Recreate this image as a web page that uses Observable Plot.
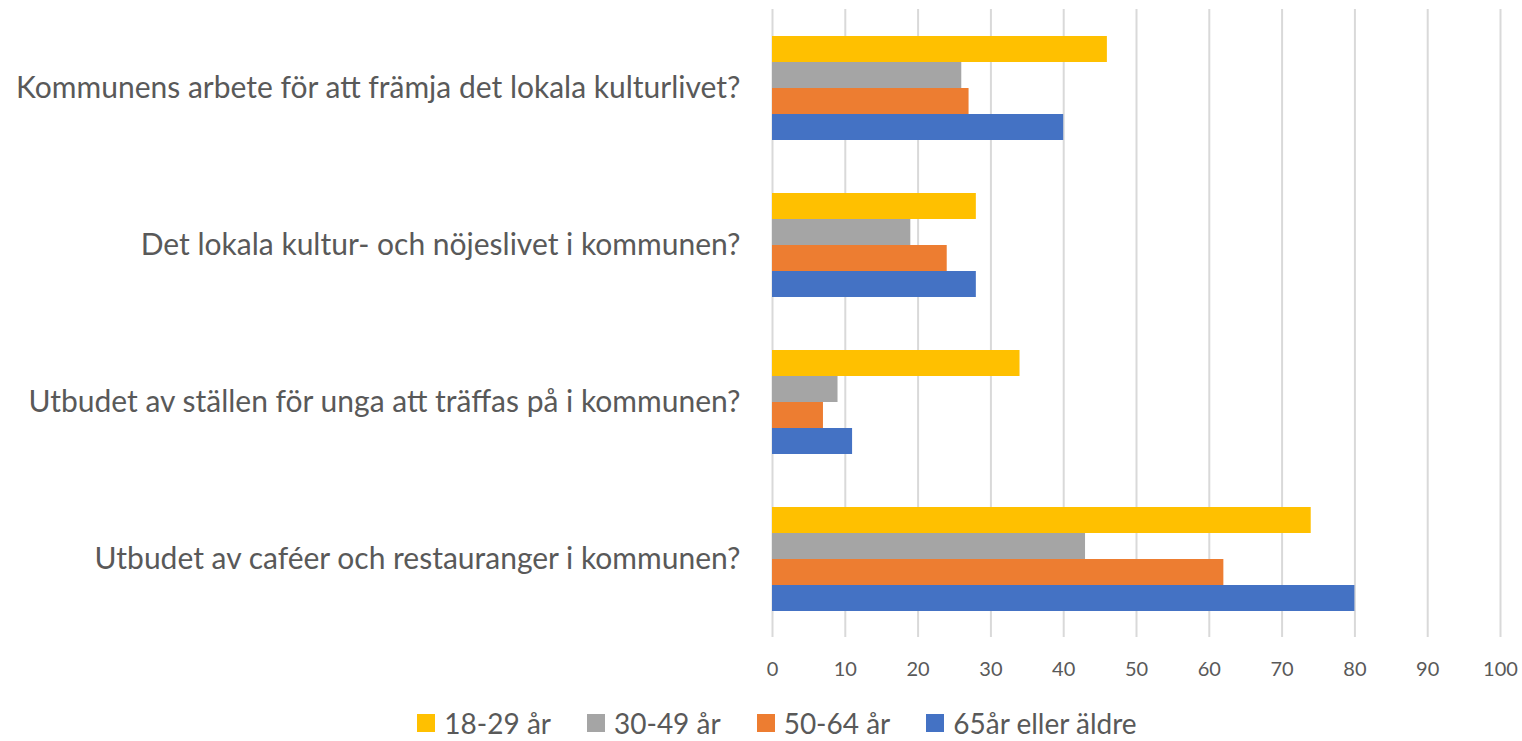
<!DOCTYPE html>
<html>
<head>
<meta charset="utf-8">
<script src="https://cdn.jsdelivr.net/npm/d3@7"></script>
<script src="https://cdn.jsdelivr.net/npm/@observablehq/plot@0.6"></script>
<style>
  html, body { margin: 0; padding: 0; background: #fff; }
  #chart { width: 1522px; height: 695px; }
  .legend { display: flex; justify-content: center; align-items: center; height: 46px; padding-left: 32px; padding-top: 10px; box-sizing: border-box;
    font-family: Lato, sans-serif; font-size: 28px; color: #595959; }
  .legend .item { display: flex; align-items: center; margin: 0 18px; }
  .legend .sw { width: 18px; height: 18px; margin-right: 9px; }
</style>
</head>
<body>
<div id="chart"></div>
<script>
const questions = [
  "Kommunens arbete för att främja det lokala kulturlivet?",
  "Det lokala kultur- och nöjeslivet i kommunen?",
  "Utbudet av ställen för unga att träffas på i kommunen?",
  "Utbudet av caféer och restauranger i kommunen?"
];
const ages = ["18-29 år", "30-49 år", "50-64 år", "65år eller äldre"];
const v18_29 = [46, 28, 34, 74];
const v30_49 = [26, 19, 9, 43];
const v50_64 = [27, 24, 7, 62];
const v65 = [40, 28, 11, 80];
const xTicks = [0, 10, 20, 30, 40, 50, 60, 70, 80, 90, 100];
const colors = ["#FFC000", "#A5A5A5", "#ED7D31", "#4472C4"];

const series = [v18_29, v30_49, v50_64, v65];
const data = questions.flatMap((q, i) => ages.map((a, j) => ({q, a, v: series[j][i]})));

const chart = Plot.plot({
  width: 1522,
  height: 695,
  marginLeft: 772,
  marginRight: 22,
  marginTop: 8,
  marginBottom: 58,
  style: {fontFamily: "Lato, sans-serif", color: "#595959", background: "#fff"},
  x: {domain: [0, 100], label: null},
  fy: {domain: questions, padding: 0, label: null},
  y: {domain: ages, paddingInner: 0, paddingOuter: 0.93, axis: null},
  color: {domain: ages, range: colors},
  marks: [
    Plot.ruleX(xTicks, {x: d => d, stroke: "#D9D9D9", strokeWidth: 2}),
    Plot.barX(data, {x: "v", y: "a", fy: "q", fill: "a"}),
    Plot.axisX({ticks: xTicks, tickSize: 0, tickPadding: 24, fontSize: 20, label: null, fill: "#595959"}),
    Plot.axisFy({anchor: "left", tickSize: 0, tickPadding: 32, fontSize: 30, label: null, fill: "#595959"})
  ]
});
document.getElementById("chart").appendChild(chart);

const legend = document.createElement("div");
legend.className = "legend";
ages.forEach((a, i) => {
  const item = document.createElement("div");
  item.className = "item";
  const sw = document.createElement("div");
  sw.className = "sw";
  sw.style.background = colors[i];
  const t = document.createElement("span");
  t.textContent = a;
  item.appendChild(sw);
  item.appendChild(t);
  legend.appendChild(item);
});
document.body.appendChild(legend);
</script>
</body>
</html>
